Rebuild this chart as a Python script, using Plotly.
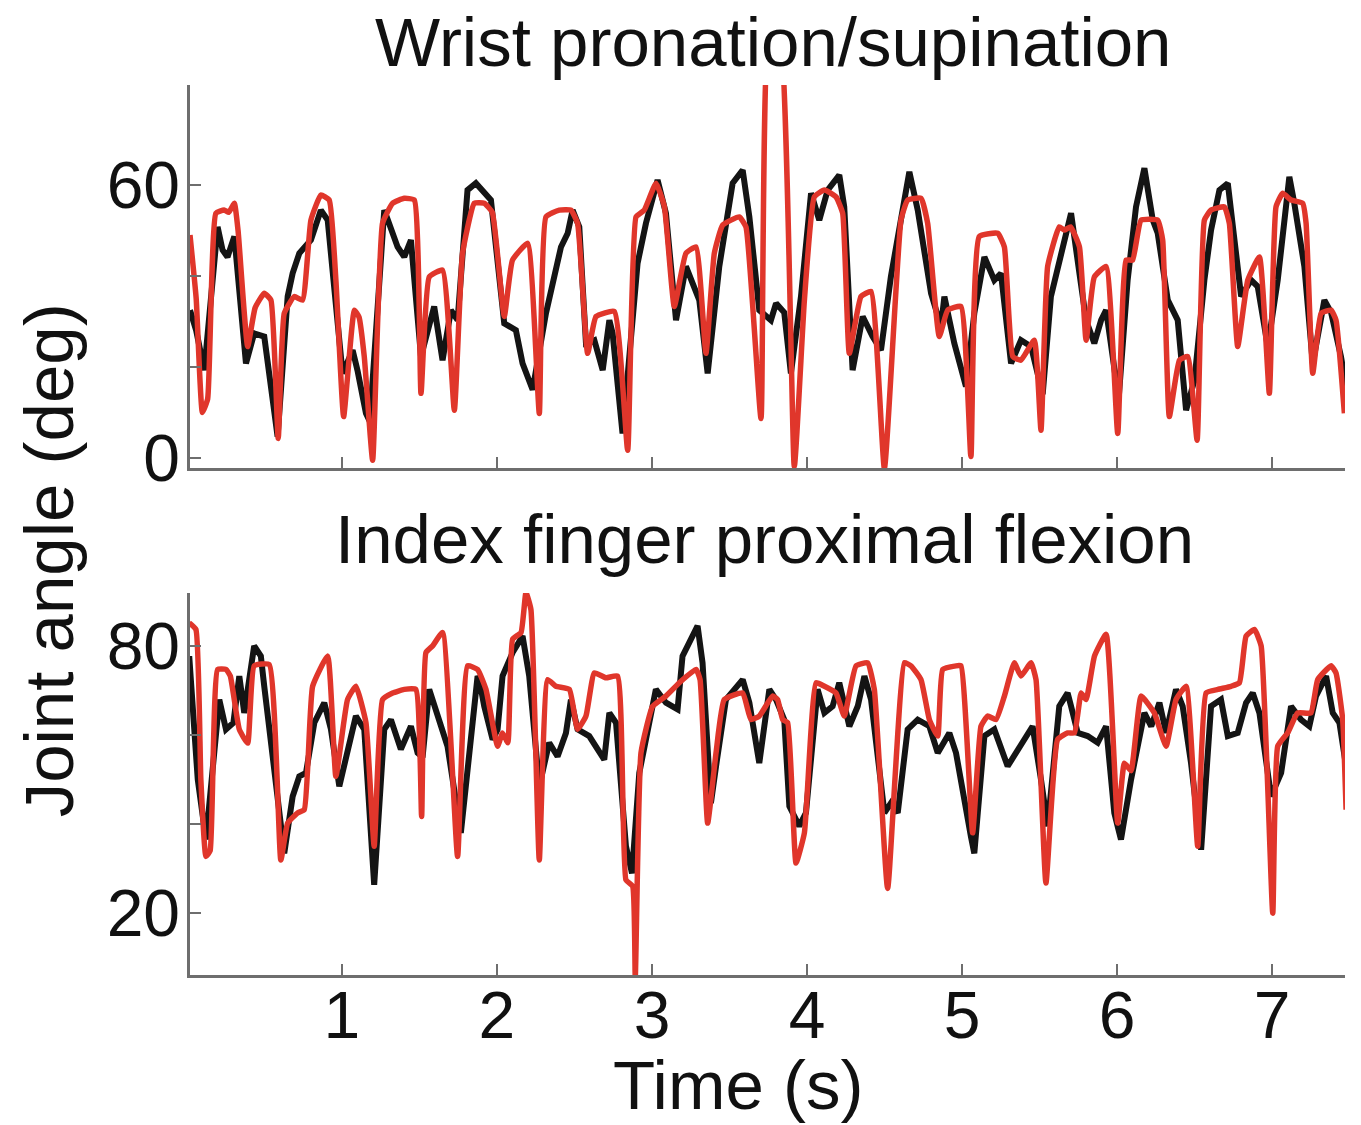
import plotly.graph_objects as go

# ---------------- data ----------------
# Top panel: Wrist pronation/supination (deg)
wrist_actual_t = [0.02, 0.06, 0.112, 0.198, 0.23, 0.262, 0.306, 0.381, 0.434, 0.499, 0.585, 0.65, 0.682, 0.725, 0.80, 0.864, 0.908,
                  1.004, 1.069, 1.1, 1.155, 1.18, 1.273, 1.359, 1.402, 1.445, 1.51, 1.595, 1.649, 1.703, 1.746, 1.81, 1.864, 1.886,
                  1.961, 2.047, 2.122, 2.165, 2.23, 2.316, 2.359, 2.413, 2.456, 2.488, 2.531, 2.574, 2.628, 2.682, 2.725, 2.746,
                  2.81, 2.907, 2.961, 3.036, 3.09, 3.155, 3.219, 3.262, 3.305, 3.359, 3.434, 3.52, 3.585, 3.628, 3.692, 3.767,
                  3.8, 3.853, 3.896, 3.961, 4.026, 4.079, 4.133, 4.208, 4.24, 4.294, 4.359, 4.423, 4.477, 4.541, 4.606, 4.66,
                  4.714, 4.8, 4.864, 4.886, 4.95, 5.025, 5.079, 5.144, 5.208, 5.251, 5.316, 5.38, 5.445, 5.487, 5.52, 5.573,
                  5.638, 5.703, 5.757, 5.8, 5.853, 5.897, 5.929, 5.993, 6.01, 6.068, 6.122, 6.176, 6.23, 6.262, 6.327, 6.391,
                  6.445, 6.499, 6.563, 6.606, 6.66, 6.714, 6.746, 6.8, 6.864, 6.907, 6.972, 7.036, 7.111, 7.143, 7.208, 7.262,
                  7.337, 7.38, 7.444, 7.477]
wrist_actual = [32.5, 28, 19.3, 50.8, 45.7, 44.2, 48.7, 20.8, 27.4, 26.7, 4.7, 35.5, 40.6, 45, 47.9, 54.5, 52.3,
                18.6, 23.7, 19.3, 9.8, 8, 54.5, 46.4, 44.2, 47.9, 22.3, 33.3, 21.5, 32.5, 30.3, 58.9, 60.4, 59.6,
                56.7, 29.6, 28.1, 20.8, 15, 31.8, 37.7, 46.4, 49.4, 54.5, 50.8, 25.2, 25.9, 19.3, 30.3, 27.4,
                5.4, 42.8, 51.6, 61.1, 53.8, 30.3, 42.1, 38.4, 34.7, 18.6, 42.1, 60.4, 63.3, 53, 32.5, 30.3,
                34, 32, 18.6, 35.5, 58.2, 52.3, 58.9, 62.2, 55.2, 19.3, 31.1, 26.7, 23.7, 39.9, 52, 62.9,
                54.5, 36.2, 28.9, 35.5, 25.2, 15.7, 31.8, 44.2, 39.1, 40.6, 20.8, 25.9, 24.5, 19.3, 14, 35.5,
                44.2, 53.8, 40.6, 30.3, 25.2, 30.3, 32.5, 17.1, 13, 39.1, 55.2, 63.7, 52.3, 49.4, 34.7, 30.3,
                10.5, 17.1, 39.1, 50.1, 58.9, 60.4, 50.8, 35.5, 39.1, 37.7, 24.5, 39.1, 61.8, 56, 42.1, 20.8,
                34.7, 32, 22.3, 15.7]

wrist_pred_t = [0.02, 0.06, 0.10, 0.134, 0.187, 0.24, 0.27, 0.306, 0.33, 0.392, 0.44, 0.499, 0.542, 0.589, 0.628, 0.693, 0.746,
                0.80, 0.864, 0.918, 0.961, 1.011, 1.08, 1.11, 1.144, 1.198, 1.262, 1.327, 1.402, 1.467, 1.51, 1.563, 1.649,
                1.725, 1.778, 1.854, 1.918, 1.97, 2.047, 2.1, 2.198, 2.273, 2.316, 2.402, 2.477, 2.52, 2.585, 2.639, 2.757,
                2.843, 2.897, 2.95, 3.026, 3.08, 3.144, 3.219, 3.284, 3.348, 3.402, 3.456, 3.563, 3.606, 3.703, 3.757, 3.82,
                3.918, 3.983, 4.047, 4.112, 4.187, 4.23, 4.273, 4.348, 4.413, 4.499, 4.606, 4.649, 4.735, 4.778, 4.853, 4.907,
                4.993, 5.057, 5.111, 5.23, 5.273, 5.327, 5.38, 5.466, 5.509, 5.552, 5.627, 5.66, 5.7, 5.757, 5.8, 5.853,
                5.929, 6.004, 6.058, 6.1, 6.155, 6.262, 6.294, 6.337, 6.402, 6.456, 6.516, 6.563, 6.606, 6.692, 6.724, 6.778,
                6.843, 6.918, 6.982, 7.025, 7.068, 7.122, 7.197, 7.219, 7.262, 7.316, 7.38, 7.412, 7.466]
wrist_pred = [49, 35, 10, 13, 53.8, 54.5, 54, 56, 50, 24.5, 33, 36.2, 34.7, 4.3, 31.8, 35.5, 34.7,
              52.3, 57.8, 56.7, 39.1, 9.1, 32.5, 31, 22.3, -0.5, 51.6, 56, 57.1, 56.7, 14.2, 39.8, 41.3,
              10.5, 45, 56, 56, 54, 31.1, 43.5, 47.2, 9.8, 53, 54.5, 54.5, 51.6, 23, 31.1, 32.2,
              1.7, 53, 54.5, 60.4, 55.2, 33.3, 45, 46.4, 23, 45, 51.2, 53, 50.8, 8.7, 95, 95,
              -1.9, 34.7, 57.4, 58.9, 57.4, 53.8, 23, 35.5, 36.6, -2.3, 52.3, 56.7, 57.1, 51.6, 26.7, 32.5,
              33.3, 0.3, 48.7, 49.4, 46.4, 22.3, 21.5, 25.9, 6.1, 42.1, 50.8, 50.1, 50.8, 46.4, 25.9, 39.8,
              42.1, 5.4, 43.5, 43.5, 52.3, 52.3, 47.9, 9.1, 21.5, 22.3, 3.9, 52.3, 54.5, 55.2, 51.6, 24.5,
              39.1, 44.2, 14.2, 55.2, 58.2, 56.7, 56, 51.6, 18.6, 31.8, 32.5, 30.3, 9.8]

# Bottom panel: Index finger proximal flexion (deg)
index_actual_t = [0.015, 0.07, 0.123, 0.209, 0.252, 0.30, 0.338, 0.37, 0.434, 0.477, 0.499, 0.628, 0.682, 0.725, 0.768, 0.822,
                  0.886, 0.929, 0.983, 1.036, 1.09, 1.144, 1.208, 1.273, 1.316, 1.38, 1.445, 1.488, 1.52, 1.563, 1.639, 1.681,
                  1.767, 1.832, 1.875, 1.886, 1.918, 1.972, 2.004, 2.036, 2.101, 2.165, 2.208, 2.273, 2.337, 2.391, 2.445,
                  2.477, 2.52, 2.595, 2.692, 2.725, 2.768, 2.832, 2.871, 2.918, 3.025, 3.09, 3.165, 3.197, 3.294, 3.326,
                  3.38, 3.413, 3.477, 3.585, 3.628, 3.692, 3.757, 3.80, 3.853, 3.886, 3.95, 3.993, 4.068, 4.112, 4.165,
                  4.208, 4.273, 4.327, 4.37, 4.413, 4.499, 4.541, 4.585, 4.649, 4.714, 4.789, 4.843, 4.918, 4.961, 5.057,
                  5.079, 5.144, 5.208, 5.294, 5.38, 5.455, 5.509, 5.552, 5.627, 5.681, 5.703, 5.746, 5.81, 5.875, 5.929,
                  5.982, 6.025, 6.09, 6.176, 6.22, 6.273, 6.316, 6.38, 6.423, 6.477, 6.542, 6.606, 6.67, 6.714, 6.778,
                  6.832, 6.875, 6.918, 6.993, 7.058, 7.122, 7.186, 7.24, 7.283, 7.348, 7.391, 7.434, 7.477]
index_actual = [77.8, 50, 36.5, 68, 61.3, 62.8, 73.3, 65, 80.1, 77.8, 71, 33.4, 46.2, 50.7, 51.5, 62.8,
                67.3, 61.3, 48.5, 56, 64.3, 61.3, 26.3, 61.3, 63.5, 56.8, 62, 56, 55, 70.3, 62, 57.5,
                38, 59, 73.3, 72.5, 66.5, 59, 61.3, 73.3, 78.6, 82.3, 73.3, 48.5, 58.3, 55.2, 60.5,
                68, 61.3, 59.8, 54.5, 65, 62.8, 35, 28.9, 51.5, 70.3, 67.3, 65.8, 77.8, 84.6, 76.3,
                44.7, 53, 68, 72.5, 67.3, 53.7, 70.3, 68, 63.5, 44, 39.5, 42.5, 70.3, 65, 66.5,
                71.8, 62, 66.5, 73.3, 68, 42.5, 44.7, 42.5, 61.3, 63.5, 62, 56, 60.5, 56, 37.2,
                33.4, 59.8, 61.3, 53, 57.5, 62, 50, 39.5, 66.5, 69.5, 66.5, 60.5, 59.8, 58.3, 62,
                42.5, 36.5, 50, 65, 62, 67.3, 60.5, 70.3, 66.5, 53.7, 34.2, 66.5, 68, 59.8, 60.5,
                67.3, 69.5, 65, 46.2, 51.5, 66.5, 63.5, 62, 68.8, 73.3, 65, 62.8, 53]

index_pred_t = [0.015, 0.058, 0.09, 0.123, 0.15, 0.198, 0.252, 0.28, 0.338, 0.392, 0.434, 0.531, 0.606, 0.65, 0.714, 0.757,
                0.811, 0.908, 0.961, 1.036, 1.09, 1.155, 1.208, 1.262, 1.327, 1.402, 1.477, 1.514, 1.542, 1.585, 1.649,
                1.746, 1.81, 1.875, 1.929, 2.004, 2.036, 2.07, 2.101, 2.155, 2.187, 2.219, 2.273, 2.327, 2.38, 2.467,
                2.52, 2.574, 2.628, 2.703, 2.778, 2.832, 2.875, 2.892, 2.929, 3.004, 3.09, 3.176, 3.284, 3.31, 3.359,
                3.413, 3.466, 3.585, 3.638, 3.692, 3.778, 3.81, 3.843, 3.875, 3.929, 3.983, 4.058, 4.112, 4.187, 4.24,
                4.316, 4.391, 4.434, 4.52, 4.628, 4.67, 4.735, 4.789, 4.843, 4.875, 4.961, 4.993, 5.068, 5.122, 5.165,
                5.219, 5.273, 5.337, 5.38, 5.445, 5.477, 5.541, 5.616, 5.681, 5.725, 5.768, 5.80, 5.854, 5.929, 6.004,
                6.047, 6.09, 6.155, 6.24, 6.316, 6.38, 6.445, 6.52, 6.574, 6.65, 6.735, 6.789, 6.832, 6.886, 6.929,
                7.004, 7.036, 7.1, 7.165, 7.25, 7.294, 7.38, 7.412, 7.455, 7.477]
index_pred = [85.3, 83.8, 50, 32.7, 34, 74.8, 74.8, 73.3, 61.3, 58.2, 75.6, 75.9, 31.9, 40.2, 42.5, 43.2,
              71, 77.8, 50.7, 68, 71, 62.8, 35, 68, 69.5, 70.3, 70.3, 41.7, 78.6, 80.1, 83.1,
              32.7, 75.6, 74.8, 70.3, 57.5, 60.5, 58.3, 81.6, 83.1, 92.1, 88.3, 31.9, 72.5, 71, 70.3,
              61.3, 64.3, 74, 72.9, 73.3, 27.4, 26, 5.6, 56, 66.5, 68.8, 71.8, 74.8, 72.5, 40.2,
              56, 68, 69.5, 63.5, 64.3, 68.8, 68, 63.5, 62.8, 31.2, 38, 71.8, 71, 69.5, 64.3,
              75.6, 76.3, 70.3, 25.5, 76.3, 75.6, 72.5, 63.5, 59.8, 74.8, 75.6, 75.6, 38, 62, 64.3,
              63.5, 68.8, 76.3, 73.3, 76.3, 72.5, 26.7, 59, 60.5, 60.5, 69.5, 68, 77.8, 82.7, 40.2,
              53.7, 52, 68.8, 65, 57.5, 68, 71, 35, 69.5, 70.3, 71, 71.8, 82.3, 83.8, 80.1,
              19.9, 57.5, 60.5, 65, 65, 72.5, 75.6, 74, 63.5, 43.2]

x_ticks = [1, 2, 3, 4, 5, 6, 7]
x_ticktext = ["1", "2", "3", "4", "5", "6", "7"]
wrist_yticks = [0, 20, 40, 60]
wrist_yticktext = ["0", "", "", "60"]
index_yticks = [20, 40, 60, 80]
index_yticktext = ["20", "", "", "80"]

panel_titles = ["Wrist pronation/supination", "Index finger proximal flexion"]
x_title = "Time (s)"
y_title = "Joint angle (deg)"

# ---------------- styling ----------------
BLACK = "#141414"
RED = "#e0362b"
AXIS = "#6e6e6e"
FONT = "Liberation Sans, Arial, Helvetica, sans-serif"
FS = 66
FS_T = 69

fig = go.Figure()
fig.add_trace(go.Scatter(x=wrist_actual_t, y=wrist_actual, mode="lines",
                         line=dict(color=BLACK, width=6), xaxis="x", yaxis="y", showlegend=False))
fig.add_trace(go.Scatter(x=wrist_pred_t, y=wrist_pred, mode="lines",
                         line=dict(color=RED, width=5.5, shape="spline", smoothing=0.4),
                         xaxis="x", yaxis="y", showlegend=False))
fig.add_trace(go.Scatter(x=index_actual_t, y=index_actual, mode="lines",
                         line=dict(color=BLACK, width=6), xaxis="x2", yaxis="y2", showlegend=False))
fig.add_trace(go.Scatter(x=index_pred_t, y=index_pred, mode="lines",
                         line=dict(color=RED, width=5.5, shape="spline", smoothing=0.4),
                         xaxis="x2", yaxis="y2", showlegend=False))

common_axis = dict(showline=True, linecolor=AXIS, linewidth=2.5, ticks="inside", ticklen=11,
                   tickwidth=2, tickcolor=AXIS, showgrid=False, zeroline=False,
                   tickfont=dict(family=FONT, size=FS, color="#111111"))

tfont = dict(family=FONT, size=FS_T, color="#111111")

fig.update_layout(
    width=1361, height=1125,
    margin=dict(l=190, r=16, t=85, b=150),
    paper_bgcolor="white", plot_bgcolor="white",
    font=dict(family=FONT, size=FS, color="#111111"),
    xaxis=dict(domain=[0, 1], range=[0.02, 7.47], anchor="y", tickvals=x_ticks,
               showticklabels=False, **common_axis),
    yaxis=dict(domain=[0.5697, 1], range=[-2.2, 82], anchor="x", tickvals=wrist_yticks,
               ticktext=wrist_yticktext, ticklabelstandoff=-6, **common_axis),
    xaxis2=dict(domain=[0, 1], range=[0.02, 7.47], anchor="y2", tickvals=x_ticks,
                ticktext=x_ticktext, ticklabelstandoff=-19, **common_axis),
    yaxis2=dict(domain=[0, 0.4292], range=[6, 92], anchor="x2", tickvals=index_yticks,
                ticktext=index_yticktext, ticklabelstandoff=-6, **common_axis),
    annotations=[
        dict(text=panel_titles[0], xref="paper", yref="paper", x=0.5056, y=1.048,
             xanchor="center", yanchor="middle", showarrow=False, font=tfont),
        dict(text=panel_titles[1], xref="paper", yref="paper", x=0.4978, y=0.4888,
             xanchor="center", yanchor="middle", showarrow=False, font=tfont),
        dict(text=x_title, xref="paper", yref="paper", x=0.4745, y=-0.1236,
             xanchor="center", yanchor="middle", showarrow=False, font=tfont),
        dict(text=y_title, xref="paper", yref="paper", x=-0.122, y=0.466, textangle=-90,
             xanchor="center", yanchor="middle", showarrow=False, font=tfont),
    ],
)

fig.write_html("out.html")
